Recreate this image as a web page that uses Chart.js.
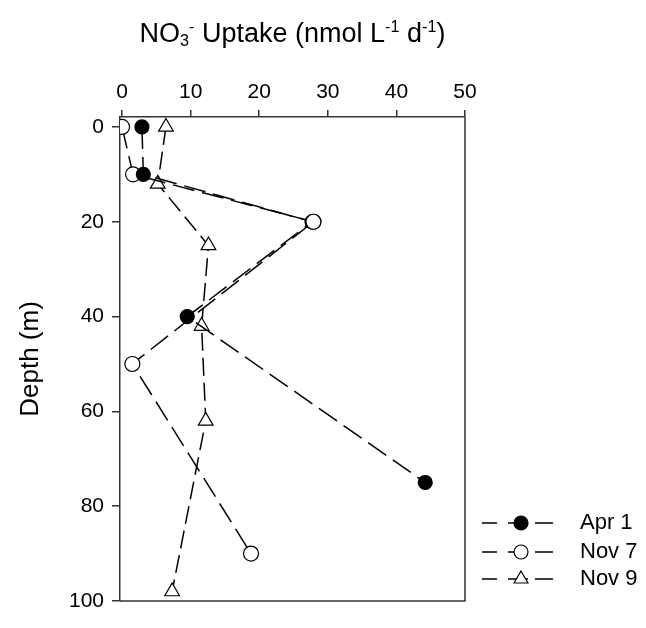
<!DOCTYPE html>
<html>
<head>
<meta charset="utf-8">
<script src="https://cdn.jsdelivr.net/npm/chart.js@4.4.0/dist/chart.umd.min.js"></script>
<style>
  html, body { margin:0; padding:0; background:#fff; }
  #wrap { position:relative; width:646px; height:628px; }
  #title { position:absolute; left:0; top:18px; width:585px; text-align:center;
           font-family:"Liberation Sans", Arial, sans-serif; font-size:27px; line-height:30px; color:#000; }
  #title sub, #title sup { font-size:60%; line-height:0; }
  #title sub { vertical-align:-0.25em; }
  #title sup { vertical-align:0.6em; }
  canvas { position:absolute; left:0; top:0; }
</style>
</head>
<body>
<div id="wrap">
  <canvas id="c" width="646" height="628"></canvas>
  <div id="title">NO<sub>3</sub><sup>-</sup> Uptake (nmol L<sup>-1</sup> d<sup>-1</sup>)</div>
</div>
<script>
// ---- data ----
const seriesNames = ["Apr 1", "Nov 7", "Nov 9"];
const depthApr1  = [0, 10, 20, 40, 75];
const uptakeApr1 = [2.9, 3.1, 27.7, 9.5, 44.2];
const depthNov7  = [0, 10, 20, 50, 90];
const uptakeNov7 = [0, 1.6, 27.9, 1.5, 18.8];
const depthNov9  = [0, 12, 25, 42, 62, 98];
const uptakeNov9 = [6.4, 5.2, 12.6, 11.6, 12.2, 7.3];
const xTickValues = [0, 10, 20, 30, 40, 50];
const yTickValues = [0, 20, 40, 60, 80, 100];

const FONT = '"Liberation Sans", Arial, sans-serif';
const AXIS = '#333';

function pts(xs, ys) { return xs.map((v, i) => ({ x: v, y: ys[i] })); }

const datasets = [
  { label: seriesNames[0], data: pts(uptakeApr1, depthApr1), pointStyle: 'circle', pointRadius: 7,
    pointBackgroundColor: '#000', borderDash: [22, 8] },
  { label: seriesNames[1], data: pts(uptakeNov7, depthNov7), pointStyle: 'circle', pointRadius: 7.5,
    pointBackgroundColor: '#fff', borderDash: [22, 8] },
  { label: seriesNames[2], data: pts(uptakeNov9, depthNov9), pointStyle: 'triangle', pointRadius: 8.5,
    pointBackgroundColor: '#fff', borderDash: [18, 7] }
].map(d => Object.assign({
  showLine: true, borderColor: '#000', borderWidth: 1.5, pointBorderColor: '#000',
  pointBorderWidth: 1.2, pointHoverRadius: 7, fill: false
}, d));

// the open circle at 20 m sits on top of the filled one in the reference
const overlapPlugin = {
  id: 'overlap',
  afterDatasetsDraw(chart) {
    const meta = chart.getDatasetMeta(1);
    const ctx = chart.ctx;
    ctx.save();
    meta.data[2].draw(ctx, chart.chartArea);
    ctx.restore();
  }
};

const framePlugin = {
  id: 'frame',
  afterDraw(chart) {
    const { ctx, chartArea: a } = chart;
    ctx.save();
    ctx.strokeStyle = AXIS; ctx.lineWidth = 1.5;
    ctx.beginPath();
    ctx.moveTo(a.right, a.top); ctx.lineTo(a.right, a.bottom); ctx.lineTo(a.left, a.bottom);
    ctx.stroke();
    ctx.restore();
  }
};

const legendPlugin = {
  id: 'customLegend',
  afterDraw(chart) {
    const ctx = chart.ctx;
    const rowsY = [523, 552, 579];
    const segs = [[482, 497], [508, 521], [521, 528], [535, 553]];
    chart.data.datasets.forEach((ds, i) => {
      const y = rowsY[i];
      ctx.save();
      ctx.strokeStyle = '#000'; ctx.lineWidth = 1.4;
      ctx.beginPath();
      segs.forEach(s => { ctx.moveTo(s[0], y); ctx.lineTo(s[1], y); });
      ctx.stroke();
      ctx.fillStyle = ds.pointBackgroundColor; ctx.strokeStyle = '#000'; ctx.lineWidth = 1.2;
      Chart.helpers.drawPoint(ctx, { pointStyle: ds.pointStyle, radius: ds.pointStyle === 'triangle' ? 8 : 7, rotation: 0, borderWidth: 1.2 }, 521, y);
      ctx.fillStyle = '#000';
      ctx.font = '22px ' + FONT;
      ctx.textBaseline = 'middle';
      ctx.textAlign = 'left';
      ctx.fillText(ds.label, 580, y);
      ctx.restore();
    });
  }
};

new Chart(document.getElementById('c'), {
  type: 'scatter',
  data: { datasets },
  options: {
    responsive: false,
    animation: false,
    events: [],
    layout: { padding: { left: 0, top: 0, right: 181, bottom: 27 }, autoPadding: false },
    plugins: { legend: { display: false }, tooltip: { enabled: false }, title: { display: false } },
    scales: {
      x: {
        type: 'linear', position: 'top', min: -0.3, max: 50,
        afterBuildTicks: s => { s.ticks = xTickValues.map(v => ({ value: v })); },
        afterFit: s => { s.height = 117; },
        grid: { drawOnChartArea: false, drawTicks: true, tickLength: 7, color: AXIS, lineWidth: 1.5 },
        border: { display: true, color: AXIS, width: 1.5 },
        ticks: { color: '#000', font: { family: FONT, size: 21 }, padding: 5, maxRotation: 0 }
      },
      y: {
        type: 'linear', reverse: true, min: -2.1, max: 100,
        afterBuildTicks: s => { s.ticks = yTickValues.map(v => ({ value: v })); },
        afterFit: s => { s.width = 120; },
        grid: { drawOnChartArea: false, drawTicks: true, tickLength: 8, color: AXIS, lineWidth: 1.5 },
        border: { display: true, color: AXIS, width: 1.5 },
        ticks: { color: '#000', font: { family: FONT, size: 21 }, padding: 8 },
        title: { display: true, text: 'Depth (m)', color: '#000', font: { family: FONT, size: 26 },
                 padding: { top: 15, bottom: 0 } }
      }
    }
  },
  plugins: [overlapPlugin, framePlugin, legendPlugin]
});
</script>
</body>
</html>
